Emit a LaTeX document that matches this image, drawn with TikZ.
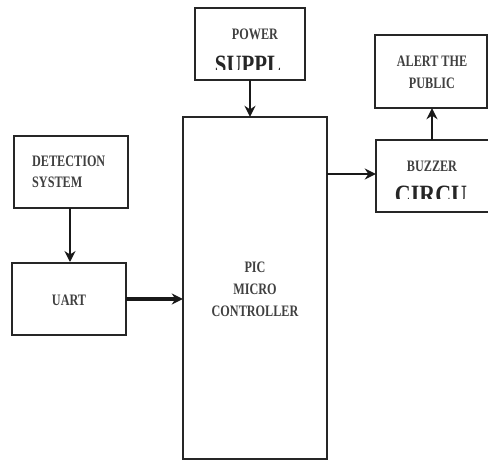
\documentclass[tikz,border=0pt]{standalone}
\usepackage{fontspec}
\setmainfont{Liberation Serif}
\usetikzlibrary{arrows.meta}
\tikzset{
  blk/.style={draw=black!85, line width=2.8pt, fill=white},
  lbl/.style={font=\fontsize{14.5}{22}\selectfont\bfseries, text=black!75, align=center, inner sep=0pt},
  big/.style={font=\fontsize{22}{22}\selectfont\bfseries, text=black!85, inner sep=0pt},
  conn/.style={draw=black!90, line width=2.2pt, -{Stealth[length=11pt,width=11pt]}},
}
\newcommand{\sq}[1]{\scalebox{0.84}[1.1]{#1}}
\begin{document}
\begin{tikzpicture}[x=1pt,y=-1pt]
\useasboundingbox (0,0) rectangle (488,461);
% boxes
\draw[blk] (195,8) rectangle (305,80);
\draw[blk] (183,117) rectangle (327,459);
\draw[blk] (14,136) rectangle (128,208);
\draw[blk] (12,263) rectangle (126,335);
\draw[blk] (376,140) rectangle (490,212);
\draw[blk] (375,35) rectangle (487,108);
% named nodes for boxes
\node[inner sep=0pt, minimum width=110pt, minimum height=72pt] (power) at (250,44) {};
\node[inner sep=0pt, minimum width=144pt, minimum height=342pt] (pic) at (255,288) {};
\node[inner sep=0pt, minimum width=114pt, minimum height=72pt] (det) at (71,172) {};
\node[inner sep=0pt, minimum width=114pt, minimum height=72pt] (uart) at (69,299) {};
\node[inner sep=0pt, minimum width=114pt, minimum height=72pt] (buz) at (433,176) {};
\node[inner sep=0pt, minimum width=112pt, minimum height=73pt] (alert) at (431,71.5) {};
% texts
\node[lbl] at (255,34) {\sq{POWER}};
\begin{scope}
\clip (200,40) rectangle (300,69);
\node[big, anchor=base] at (248,73) {\scalebox{0.95}[1.2]{SUPPL}};
\end{scope}
\node[lbl, align=left, anchor=west] at (32,172) {\sq{DETECTION}\\[-1pt]\sq{SYSTEM}};
\node[lbl] at (69,300) {\sq{UART}};
\node[lbl] at (255,289) {\sq{PIC}\\\sq{MICRO}\\\sq{CONTROLLER}};
\node[lbl] at (432,72) {\sq{ALERT THE}\\\sq{PUBLIC}};
\node[lbl] at (432,166) {\sq{BUZZER}};
\begin{scope}
\clip (380,175) rectangle (486,198);
\node[big, anchor=base] at (431,203) {\scalebox{1.0}[1.2]{CIRCU}};
\end{scope}
% connectors
\draw[conn] (power.south) -- (power.south |- pic.north);
\draw[conn] (det.south -| 70,0) -- (70,262);
\draw[conn, line width=3.2pt] (uart.east) -- (pic.west |- uart.east);
\draw[conn] (pic.east |- 0,174) -- (buz.west |- 0,174);
\draw[conn] (buz.north -| 432,0) -- (alert.south -| 432,0);
\end{tikzpicture}
\end{document}
